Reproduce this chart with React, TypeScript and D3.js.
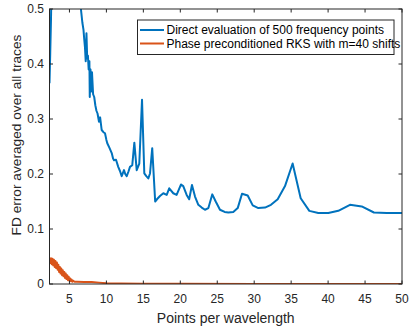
import { useRef, useEffect } from "react";
import * as d3 from "d3";

// blue: direct evaluation
const directX = [2.3, 2.4, 2.5, 2.6, 2.8, 3.5, 4.5, 5.5, 6.2, 6.55, 6.75, 6.9, 7.0, 7.1, 7.2, 7.3, 7.4, 7.5, 7.6, 7.7, 7.75, 7.85, 7.95, 8.05, 8.2, 8.35, 8.5, 8.65, 8.8, 9.0, 9.15, 9.36, 9.6, 9.81, 10.0, 10.12, 10.4, 10.72, 10.9, 11.03, 11.3, 11.6, 11.85, 12.07, 12.38, 12.55, 12.75, 13.0, 13.19, 13.5, 13.78, 14.1, 14.45, 14.82, 15.13, 15.4, 15.67, 15.9, 16.2, 16.6, 16.9, 17.25, 17.7, 18.16, 18.5, 19.05, 19.5, 20.1, 20.4, 20.86, 21.2, 21.58, 21.99, 22.44, 22.9, 23.34, 23.8, 24.33, 24.79, 25.37, 26.0, 26.5, 27.17, 27.77, 28.35, 29.12, 29.8, 30.56, 31.46, 32.27, 33.18, 34.17, 35.2, 36.29, 37.46, 38.67, 40.03, 41.38, 42.96, 44.55, 46.2, 47.93, 50];
const directY = [0.365, 0.42, 0.48, 0.56, 0.7, 0.9, 0.9, 0.8, 0.6, 0.5, 0.475, 0.462, 0.445, 0.43, 0.405, 0.456, 0.41, 0.415, 0.39, 0.405, 0.34, 0.39, 0.35, 0.385, 0.345, 0.34, 0.325, 0.315, 0.31, 0.295, 0.303, 0.28, 0.276, 0.274, 0.262, 0.256, 0.248, 0.238, 0.228, 0.225, 0.226, 0.213, 0.205, 0.196, 0.207, 0.2, 0.196, 0.205, 0.213, 0.216, 0.257, 0.207, 0.219, 0.335, 0.201, 0.196, 0.192, 0.201, 0.247, 0.15, 0.155, 0.16, 0.165, 0.162, 0.174, 0.165, 0.162, 0.181, 0.178, 0.162, 0.154, 0.18, 0.159, 0.144, 0.139, 0.135, 0.138, 0.163, 0.15, 0.135, 0.131, 0.13, 0.131, 0.138, 0.164, 0.161, 0.143, 0.138, 0.139, 0.144, 0.154, 0.178, 0.219, 0.156, 0.133, 0.129, 0.129, 0.133, 0.144, 0.141, 0.13, 0.129, 0.129];

// orange: phase preconditioned RKS (oscillates a lot at low ppw)
const rksX = [2.3, 2.4, 2.5, 2.6, 2.7, 2.8, 2.9, 3.0, 3.1, 3.2, 3.3, 3.4, 3.5, 3.6, 3.7, 3.8, 3.9, 4.0, 4.1, 4.2, 4.3, 4.4, 4.5, 4.6, 4.7, 4.8, 4.9, 5.0, 5.1, 5.2, 5.3, 5.4, 5.5, 5.7, 6.0, 7, 8, 9, 10, 12, 15, 20, 30, 50];
const rksY = [0.048, 0.038, 0.047, 0.036, 0.046, 0.034, 0.044, 0.031, 0.042, 0.029, 0.039, 0.026, 0.035, 0.022, 0.031, 0.019, 0.028, 0.016, 0.025, 0.014, 0.022, 0.011, 0.019, 0.009, 0.016, 0.007, 0.013, 0.006, 0.01, 0.005, 0.008, 0.004, 0.006, 0.004, 0.004, 0.0035, 0.0035, 0.0025, 0.0015, 0.001, 0.0005, 0.0003, 0.0002, 0.0001];

const xTicks = [5, 10, 15, 20, 25, 30, 35, 40, 45, 50];
const yTicks = [0, 0.1, 0.2, 0.3, 0.4, 0.5];
const seriesNames = ["Direct evaluation of 500 frequency points", "Phase preconditioned RKS with m=40 shifts"];
const seriesColors = ["#0072BD", "#D95319"];

const W = 410, H = 326;
const m = { left: 49.5, right: 402, top: 9, bottom: 284 };
const font = "'Liberation Sans', Arial, Helvetica, sans-serif";
const axisColor = "#262626";

export default function App() {
    const ref = useRef<SVGSVGElement>(null);

    useEffect(() => {
        const svg = d3.select(ref.current);
        svg.selectAll("*").remove();

        const x = d3.scaleLinear().domain([2.3, 50]).range([m.left, m.right]);
        const y = d3.scaleLinear().domain([0, 0.5]).range([m.bottom, m.top]);

        svg.append("defs").append("clipPath").attr("id", "plotclip")
            .append("rect")
            .attr("x", m.left).attr("y", m.top)
            .attr("width", m.right - m.left).attr("height", m.bottom - m.top);

        svg.append("rect")
            .attr("x", m.left).attr("y", m.top)
            .attr("width", m.right - m.left).attr("height", m.bottom - m.top)
            .attr("fill", "white");

        // lines (clipped to the axes, the blue one runs off the top)
        const plot = svg.append("g").attr("clip-path", "url(#plotclip)");
        const series = [
            { xs: directX, ys: directY, color: seriesColors[0] },
            { xs: rksX, ys: rksY, color: seriesColors[1] },
        ];
        series.forEach(s => {
            const pts: [number, number][] = s.xs.map((v, i) => [x(v), y(s.ys[i])]);
            plot.append("path")
                .attr("d", d3.line()(pts))
                .attr("fill", "none")
                .attr("stroke", s.color)
                .attr("stroke-width", 2)
                .attr("stroke-linejoin", "round");
        });

        // box + ticks
        const ax = svg.append("g").attr("stroke", axisColor).attr("stroke-width", 1).attr("fill", "none");
        ax.append("rect")
            .attr("x", m.left).attr("y", m.top)
            .attr("width", m.right - m.left).attr("height", m.bottom - m.top);
        const tl = 3.5;
        xTicks.forEach(t => {
            ax.append("line").attr("x1", x(t)).attr("x2", x(t)).attr("y1", m.bottom).attr("y2", m.bottom - tl);
            ax.append("line").attr("x1", x(t)).attr("x2", x(t)).attr("y1", m.top).attr("y2", m.top + tl);
        });
        yTicks.forEach(t => {
            ax.append("line").attr("y1", y(t)).attr("y2", y(t)).attr("x1", m.left).attr("x2", m.left + tl);
            ax.append("line").attr("y1", y(t)).attr("y2", y(t)).attr("x1", m.right).attr("x2", m.right - tl);
        });

        const txt = svg.append("g").attr("font-family", font).attr("fill", axisColor);
        txt.selectAll("text.xt").data(xTicks).join("text")
            .attr("x", d => x(d)).attr("y", 299)
            .attr("text-anchor", "middle").attr("dominant-baseline", "central")
            .attr("font-size", 12)
            .text(d => String(d));
        txt.selectAll("text.yt").data(yTicks).join("text")
            .attr("x", m.left - 5.5).attr("y", d => y(d))
            .attr("text-anchor", "end").attr("dominant-baseline", "central")
            .attr("font-size", 12)
            .text(d => String(d));
        txt.append("text")
            .attr("x", (m.left + m.right) / 2).attr("y", 318)
            .attr("text-anchor", "middle").attr("dominant-baseline", "central")
            .attr("font-size", 14)
            .text("Points per wavelength");
        txt.append("text")
            .attr("transform", "translate(21, 135) rotate(-90)")
            .attr("text-anchor", "middle")
            .attr("font-size", 13.7)
            .text("FD error averaged over all traces");

        // legend
        const lg = svg.append("g");
        lg.append("rect")
            .attr("x", 137.5).attr("y", 20)
            .attr("width", 394 - 137.5).attr("height", 34.5)
            .attr("fill", "white").attr("stroke", axisColor).attr("stroke-width", 1);
        seriesNames.forEach((name, i) => {
            const ly = 30 + i * 13.5;
            lg.append("line")
                .attr("x1", 140).attr("x2", 164).attr("y1", ly).attr("y2", ly)
                .attr("stroke", seriesColors[i]).attr("stroke-width", 2);
            lg.append("text")
                .attr("x", 166.5).attr("y", ly)
                .attr("dominant-baseline", "central")
                .attr("font-family", font).attr("font-size", 12).attr("fill", "#000")
                .text(name);
        });
    }, []);

    return (
        <svg ref={ref} width={W} height={H}
             style={{ position: "absolute", left: 0, top: 0, background: "white" }} />
    );
}
